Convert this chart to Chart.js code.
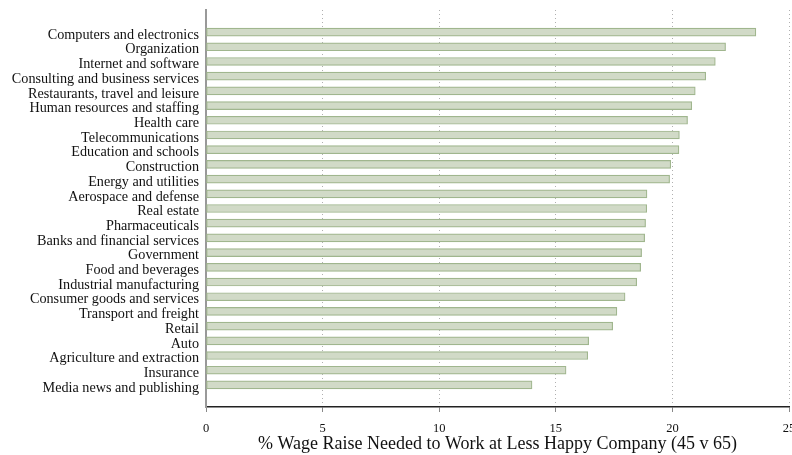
<!DOCTYPE html>
<html>
<head>
<meta charset="utf-8">
<script src="https://cdn.jsdelivr.net/npm/chart.js@4/dist/chart.umd.min.js"></script>
<style>
html,body{margin:0;padding:0;background:#fff;overflow:hidden;}
#wrap{width:792px;height:455px;position:relative;}
</style>
</head>
<body>
<div id="wrap"><canvas id="c"></canvas></div>
<script>
const categories = [
  "Computers and electronics","Organization","Internet and software",
  "Consulting and business services","Restaurants, travel and leisure",
  "Human resources and staffing","Health care","Telecommunications",
  "Education and schools","Construction","Energy and utilities",
  "Aerospace and defense","Real estate","Pharmaceuticals",
  "Banks and financial services","Government","Food and beverages",
  "Industrial manufacturing","Consumer goods and services",
  "Transport and freight","Retail","Auto","Agriculture and extraction",
  "Insurance","Media news and publishing"
];
const wageRaise = [
  23.58, 22.28, 21.84, 21.43, 20.98, 20.83, 20.65, 20.30, 20.28, 19.93,
  19.88, 18.91, 18.90, 18.85, 18.81, 18.68, 18.64, 18.47, 17.97, 17.62,
  17.44, 16.41, 16.37, 15.44, 13.98
];
const xTicks = [0, 5, 10, 15, 20, 25];
const xTitle = "% Wage Raise Needed to Work at Less Happy Company (45 v 65)";

const FONT = "'Liberation Serif', 'DejaVu Serif', serif";
const labels = [""].concat(categories, [""]);
const values = [null].concat(wageRaise, [null]);

new Chart(document.getElementById('c'), {
  type: 'bar',
  data: {
    labels: labels,
    datasets: [{
      data: values,
      backgroundColor: 'rgb(209,218,199)',
      borderColor: 'rgb(160,182,142)',
      borderWidth: 1.2,
      borderSkipped: false,
      barThickness: 8
    }]
  },
  options: {
    indexAxis: 'y',
    responsive: true,
    maintainAspectRatio: false,
    animation: false,
    layout: { padding: { top: 10, left: 0, right: 3, bottom: 0 } },
    plugins: { legend: { display: false }, tooltip: { enabled: false } },
    scales: {
      x: {
        type: 'linear',
        min: 0, max: 25,
        afterBuildTicks: (s) => { s.ticks = xTicks.map(v => ({ value: v })); },
        afterFit: (s) => { s.height = 48; s.paddingLeft = 0; s.paddingRight = 0; },
        border: { display: true, color: '#222', width: 1.5, dash: [1, 3] },
        grid: {
          display: true,
          color: (ctx) => ctx.tick && ctx.tick.value === 0 ? 'rgba(0,0,0,0)' : '#b0b0b0',
          lineWidth: 1,
          tickColor: '#888',
          tickLength: 5,
          drawTicks: true,
          tickBorderDash: []
        },
        ticks: {
          color: '#111',
          font: { family: FONT, size: 12.5 },
          padding: 9,
          maxRotation: 0,
          autoSkip: false
        },
        title: {
          display: true,
          text: xTitle,
          color: '#111',
          font: { family: FONT, size: 18 },
          padding: { top: 2, bottom: 0 }
        }
      },
      y: {
        type: 'category',
        offset: true,
        afterFit: (s) => { s.width = 206; s.paddingTop = 0; s.paddingBottom = 0; },
        border: { display: true, color: '#999', width: 2 },
        grid: { display: false, drawTicks: false },
        ticks: {
          color: '#111',
          font: { family: FONT, size: 14.2 },
          padding: 7,
          labelOffset: 3,
          autoSkip: false
        }
      }
    }
  }
});
</script>
</body>
</html>
